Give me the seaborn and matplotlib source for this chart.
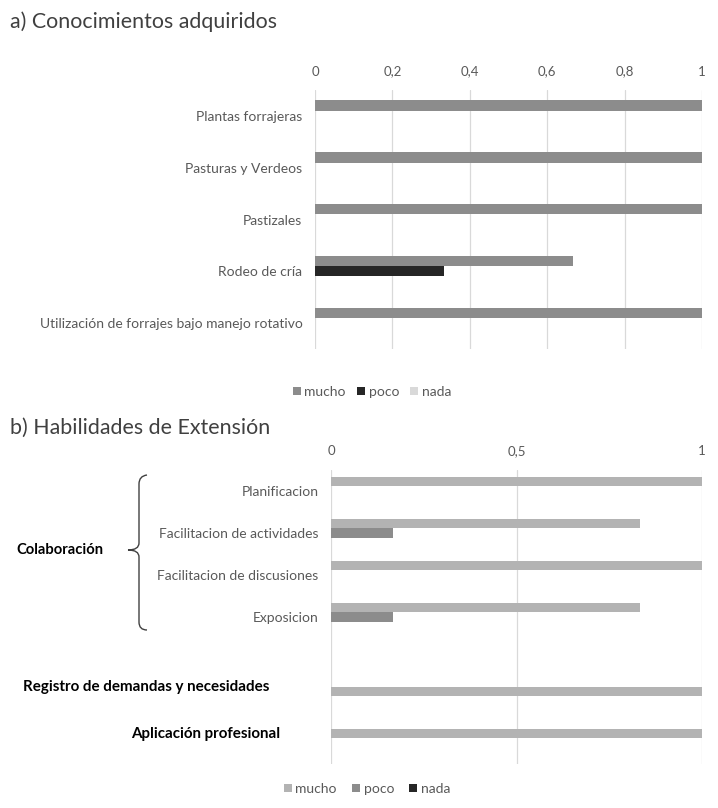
import numpy as np
import pandas as pd
import matplotlib.pyplot as plt
import seaborn as sns
from matplotlib.path import Path
from matplotlib.patches import PathPatch

# datos panel a
temas_a = ["Plantas forrajeras", "Pasturas y Verdeos", "Pastizales",
           "Rodeo de cría", "Utilización de forrajes bajo manejo rotativo"]
mucho_a = [1, 1, 1, 0.667, 1]
poco_a = [0, 0, 0, 0.333, 0]
nada_a = [0, 0, 0, 0, 0]
ticks_a = [0, 0.2, 0.4, 0.6, 0.8, 1]
ticklabels_a = ["0", "0,2", "0,4", "0,6", "0,8", "1"]

# datos panel b (" " es una fila vacia de separacion)
temas_b = ["Planificacion", "Facilitacion de actividades", "Facilitacion de discusiones",
           "Exposicion", " ", "Registro de demandas y necesidades", "Aplicación profesional"]
mucho_b = [1, 0.833, 1, 0.833, 0, 1, 1]
poco_b = [0, 0.167, 0, 0.167, 0, 0, 0]
nada_b = [0, 0, 0, 0, 0, 0, 0]
ticks_b = [0, 0.5, 1]
ticklabels_b = ["0", "0,5", "1"]

niveles = ["mucho", "poco", "nada"]

sns.set_style("white")
plt.rcParams['font.family'] = ['Lato', 'DejaVu Sans']

W, H = 718, 808
fig = plt.figure(figsize=(W / 100, H / 100), dpi=100)


def px_axes(x0, y0, x1, y1):
    return fig.add_axes([x0 / W, 1 - y1 / H, (x1 - x0) / W, (y1 - y0) / H])


def long_df(temas, mucho, poco, nada):
    df = pd.DataFrame({"tema": temas, "mucho": mucho, "poco": poco, "nada": nada})
    return df.melt(id_vars="tema", var_name="nivel", value_name="valor")


def style_ax(ax, ticks, ticklabels):
    ax.set_xlim(0, 1)
    ax.set_xticks(ticks)
    ax.set_xticklabels(ticklabels)
    ax.xaxis.tick_top()
    ax.tick_params(axis="x", length=0, pad=9, labelsize=9.5, labelcolor="#595959")
    ax.tick_params(axis="y", length=0, pad=9, labelsize=10, labelcolor="#595959")
    ax.grid(axis="x", color="#d9d9d9", lw=0.9)
    ax.set_axisbelow(True)
    for s in ax.spines.values():
        s.set_visible(False)
    ax.set_xlabel("")
    ax.set_ylabel("")


# ---- panel a
ax1 = px_axes(315, 90, 702, 349)
sns.barplot(data=long_df(temas_a, mucho_a, poco_a, nada_a), x="valor", y="tema",
            hue="nivel", hue_order=niveles, orient="h", width=0.6, linewidth=0,
            palette=["#8c8c8c", "#262626", "#d9d9d9"], ax=ax1)
style_ax(ax1, ticks_a, ticklabels_a)
sns.move_legend(ax1, "center", bbox_to_anchor=(372 / W, 1 - 392 / H),
                bbox_transform=fig.transFigure, ncol=3, frameon=False, title=None,
                handlelength=0.58, handleheight=0.58, handletextpad=0.25,
                columnspacing=0.8, fontsize=10, labelcolor="#595959")

# ---- panel b
ax2 = px_axes(331, 470, 702, 764)
sns.barplot(data=long_df(temas_b, mucho_b, poco_b, nada_b), x="valor", y="tema",
            hue="nivel", hue_order=niveles, orient="h", width=0.65, linewidth=0,
            palette=["#b3b3b3", "#8c8c8c", "#262626"], ax=ax2)
style_ax(ax2, ticks_b, ticklabels_b)
sns.move_legend(ax2, "center", bbox_to_anchor=(367 / W, 1 - 789 / H),
                bbox_transform=fig.transFigure, ncol=3, frameon=False, title=None,
                handlelength=0.58, handleheight=0.58, handletextpad=0.25,
                columnspacing=1.1, fontsize=10, labelcolor="#595959")

# etiquetas en negrita de las dos ultimas filas
labels = ax2.get_yticklabels()
for lab in labels[4:]:
    lab.set_visible(False)
ax2.annotate(temas_b[5], xy=(0, 5), xytext=(-44.6, 10), textcoords="offset points",
             ha="right", va="center", fontsize=10.9, fontweight="bold", color="black")
ax2.annotate(temas_b[6], xy=(0, 6), xytext=(-36.7, 6.5), textcoords="offset points",
             ha="right", va="center", fontsize=10.9, fontweight="bold", color="black")

# titulos
fig.text(10 / W, 1 - 22 / H, "a) Conocimientos adquiridos", ha="left", va="center",
         fontsize=15.4, color="#404040")
fig.text(10 / W, 1 - 428 / H, "b) Habilidades de Extensión", ha="left", va="center",
         fontsize=15.4, color="#404040")

# llave de Colaboración
over = fig.add_axes([0, 0, 1, 1], facecolor="none")
over.set_xlim(0, W)
over.set_ylim(H, 0)
over.axis("off")
verts = [(147, 475), (139, 476), (139, 484),
         (139, 543), (139, 550), (128, 550),
         (139, 550), (139, 557),
         (139, 622), (139, 630), (147, 630)]
codes = [Path.MOVETO, Path.CURVE3, Path.CURVE3,
         Path.LINETO, Path.CURVE3, Path.CURVE3,
         Path.CURVE3, Path.CURVE3,
         Path.LINETO, Path.CURVE3, Path.CURVE3]
over.add_patch(PathPatch(Path(verts, codes), fill=False, lw=1.0, color="#404040"))
over.text(16, 550, "Colaboración", ha="left", va="center", fontsize=10.6,
          fontweight="bold", color="black")

fig.savefig("out.png", dpi=100)
